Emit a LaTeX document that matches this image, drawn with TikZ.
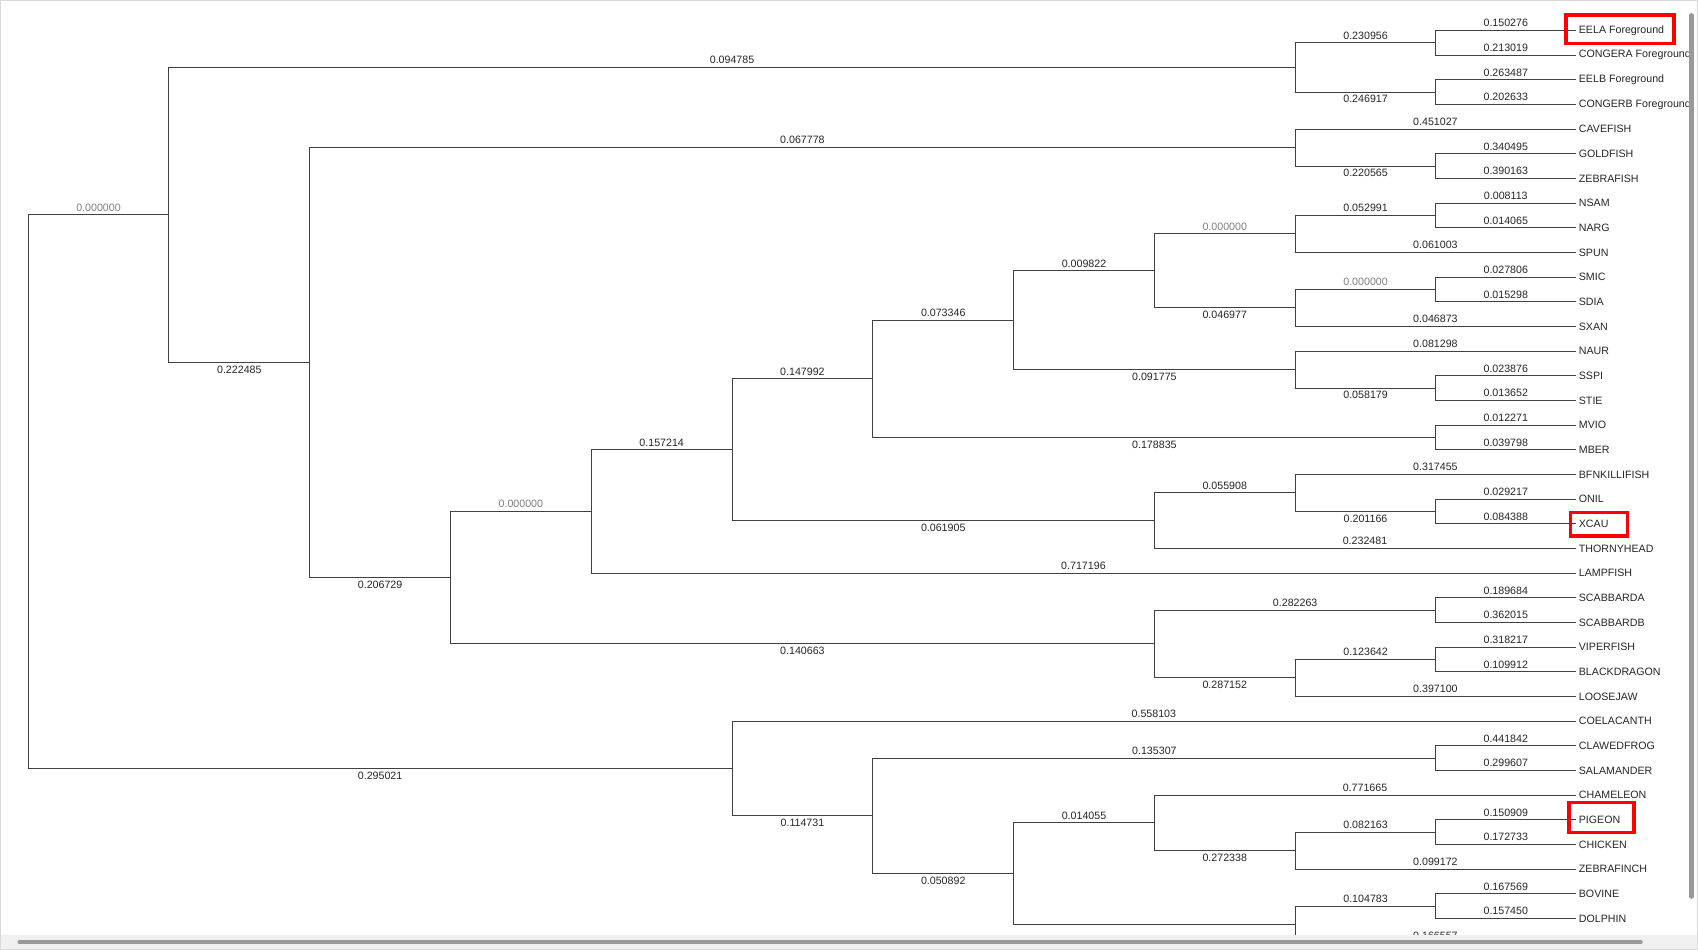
\documentclass[tikz,border=0pt]{standalone}
\usepackage{fontspec}
\setmainfont{Liberation Sans}
\begin{document}
\begin{tikzpicture}[x=0.02cm,y=-0.02cm,
  edge/.style={draw=black!75,line width=0.5pt},
  lab/.style={font=\fontsize{5.6}{6}\selectfont,inner sep=1.6pt,text=black!85},
  zerolab/.style={text=black!50},
  leaf/.style={font=\fontsize{5.6}{6}\selectfont,anchor=west,inner sep=1.5pt,text=black!85},
  hl/.style={draw=red,line width=1.8pt}]
\useasboundingbox (0,0) rectangle (1568,877);
\fill[white] (0,0) rectangle (1568,877);
\draw[black!15] (0.5,0.5) rectangle (1567.5,876.5);
\newcommand\Yk[1]{28+22.78*#1}
% leaves
\foreach \i/\n in {0/EELA Foreground,1/CONGERA Foreground,2/EELB Foreground,3/CONGERB Foreground,4/CAVEFISH,5/GOLDFISH,6/ZEBRAFISH,7/NSAM,8/NARG,9/SPUN,10/SMIC,11/SDIA,12/SXAN,13/NAUR,14/SSPI,15/STIE,16/MVIO,17/MBER,18/BFNKILLIFISH,19/ONIL,20/XCAU,21/THORNYHEAD,22/LAMPFISH,23/SCABBARDA,24/SCABBARDB,25/VIPERFISH,26/BLACKDRAGON,27/LOOSEJAW,28/COELACANTH,29/CLAWEDFROG,30/SALAMANDER,31/CHAMELEON,32/PIGEON,33/CHICKEN,34/ZEBRAFINCH,35/BOVINE,36/DOLPHIN,37/{}}
  \node[leaf] (L\i) at (1455,{\Yk{\i}}) {\n};
% internal nodes
\foreach \n/\x/\k in {R/26/18.7,A/156/7.48,A1/1196/1.5,A1a/1326/0.5,A1b/1326/2.5,A2/286/13.47,B/1196/4.75,B2/1326/5.5,
  C/416/22.1875,D/546/19.5,E/676/17,F/806/14.125,G/936/11.75,H/1066/9.75,I/1196/8.25,I1/1326/7.5,J/1196/11.25,J1/1326/10.5,
  K/1196/13.75,K1/1326/14.5,L/1326/16.5,M/1066/19.875,N/1196/18.75,N1/1326/19.5,O/1066/24.875,O1/1326/23.5,P/1196/26.25,P1/1326/25.5,
  Q/676/29.92,S/806/31.84,T/1326/29.5,U/936/34.19,V/1066/32.125,W/1196/33.25,W1/1326/32.5,X/1196/36.25,X1/1326/35.5}
  \coordinate (\n) at (\x,{\Yk{\k}});
\newcommand\br[4]{\draw[edge] (#1) |- node[lab,pos=.75,#3]{#4} (#2);}
\br{R}{A}{above,zerolab}{0.000000}
\br{R}{Q}{below}{0.295021}
\br{A}{A1}{above}{0.094785}
\br{A}{A2}{below}{0.222485}
\br{A1}{A1a}{above}{0.230956}
\br{A1}{A1b}{below}{0.246917}
\br{A1a}{L0.west}{above}{0.150276}
\br{A1a}{L1.west}{above}{0.213019}
\br{A1b}{L2.west}{above}{0.263487}
\br{A1b}{L3.west}{above}{0.202633}
\br{A2}{B}{above}{0.067778}
\br{A2}{C}{below}{0.206729}
\br{B}{L4.west}{above}{0.451027}
\br{B}{B2}{below}{0.220565}
\br{B2}{L5.west}{above}{0.340495}
\br{B2}{L6.west}{above}{0.390163}
\br{C}{D}{above,zerolab}{0.000000}
\br{C}{O}{below}{0.140663}
\br{D}{E}{above}{0.157214}
\br{D}{L22.west}{above}{0.717196}
\br{E}{F}{above}{0.147992}
\br{E}{M}{below}{0.061905}
\br{F}{G}{above}{0.073346}
\br{F}{L}{below}{0.178835}
\br{G}{H}{above}{0.009822}
\br{G}{K}{below}{0.091775}
\br{H}{I}{above,zerolab}{0.000000}
\br{H}{J}{below}{0.046977}
\br{I}{I1}{above}{0.052991}
\br{I}{L9.west}{above}{0.061003}
\br{I1}{L7.west}{above}{0.008113}
\br{I1}{L8.west}{above}{0.014065}
\br{J}{J1}{above,zerolab}{0.000000}
\br{J}{L12.west}{above}{0.046873}
\br{J1}{L10.west}{above}{0.027806}
\br{J1}{L11.west}{above}{0.015298}
\br{K}{L13.west}{above}{0.081298}
\br{K}{K1}{below}{0.058179}
\br{K1}{L14.west}{above}{0.023876}
\br{K1}{L15.west}{above}{0.013652}
\br{L}{L16.west}{above}{0.012271}
\br{L}{L17.west}{above}{0.039798}
\br{M}{N}{above}{0.055908}
\br{M}{L21.west}{above}{0.232481}
\br{N}{L18.west}{above}{0.317455}
\br{N}{N1}{below}{0.201166}
\br{N1}{L19.west}{above}{0.029217}
\br{N1}{L20.west}{above}{0.084388}
\br{O}{O1}{above}{0.282263}
\br{O}{P}{below}{0.287152}
\br{O1}{L23.west}{above}{0.189684}
\br{O1}{L24.west}{above}{0.362015}
\br{P}{P1}{above}{0.123642}
\br{P}{L27.west}{above}{0.397100}
\br{P1}{L25.west}{above}{0.318217}
\br{P1}{L26.west}{above}{0.109912}
\br{Q}{L28.west}{above}{0.558103}
\br{Q}{S}{below}{0.114731}
\br{S}{T}{above}{0.135307}
\br{S}{U}{below}{0.050892}
\br{T}{L29.west}{above}{0.441842}
\br{T}{L30.west}{above}{0.299607}
\br{U}{V}{above}{0.014055}
\br{U}{X}{below}{}
\br{V}{L31.west}{above}{0.771665}
\br{V}{W}{below}{0.272338}
\br{W}{W1}{above}{0.082163}
\br{W}{L34.west}{above}{0.099172}
\br{W1}{L32.west}{above}{0.150909}
\br{W1}{L33.west}{above}{0.172733}
\br{X}{X1}{above}{0.104783}
\br{X}{L37.west}{above}{0.166557}
\br{X1}{L35.west}{above}{0.167569}
\br{X1}{L36.west}{above}{0.157450}
% highlight boxes
\draw[hl] (1446,14) rectangle (1546,40);
\draw[hl] (1450,473) rectangle (1503,495);
\draw[hl] (1449,741) rectangle (1509,769);
% scrollbars
\fill[black!6] (1,863) rectangle (1567,876);
\draw[black!40,line width=2.2pt,line cap=round] (18,870) -- (1515,870);
\draw[black!40,line width=2.2pt,line cap=round] (1562,14) -- (1562,828);
\end{tikzpicture}
\end{document}
